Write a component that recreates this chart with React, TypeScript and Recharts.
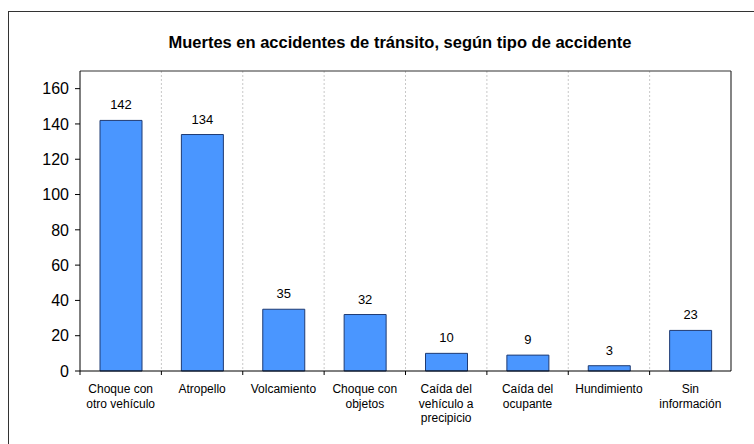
import React from 'react';
import { BarChart, Bar, XAxis, YAxis, CartesianGrid, LabelList, ReferenceLine } from 'recharts';

const categories = [
    'Choque con\notro vehículo',
    'Atropello',
    'Volcamiento',
    'Choque con\nobjetos',
    'Caída del\nvehículo a\nprecipicio',
    'Caída del\nocupante',
    'Hundimiento',
    'Sin\ninformación',
];
const deaths = [142, 134, 35, 32, 10, 9, 3, 23];
const yTicks = [0, 20, 40, 60, 80, 100, 120, 140, 160];
const Y_MAX = 170;

const data = categories.map((name, i) => ({ name, value: deaths[i] }));

const W = 745;
const H = 432;
const M = { top: 59, right: 23, left: 0, bottom: 13 };
const Y_W = 71;
const PLOT_W = W - M.left - Y_W - M.right;
const BAND = PLOT_W / categories.length;

const FONT = 'Arial, "Liberation Sans", sans-serif';

// category label + boundary tick mark on the left edge of each band
const CategoryTick = ({ x, y, payload }: any) => {
    const lines = String(payload.value).split('\n');
    return (
        <g>
            <line x1={x - BAND / 2} y1={y - 8} x2={x - BAND / 2} y2={y - 4} stroke="#000" />
            <text x={x} y={y + 14} textAnchor="middle" fontSize={12} fill="#000" fontFamily={FONT}>
                {lines.map((l, i) => (
                    <tspan key={i} x={x} dy={i === 0 ? 0 : 14.7}>{l}</tspan>
                ))}
            </text>
        </g>
    );
};

export default function App() {
    return (
        <div style={{ position: 'absolute', left: 8, top: 11, width: 780, height: 460, border: '1px solid #333', background: '#fff' }}>
            <div style={{ position: 'absolute', left: 0, top: 21, width: 782, textAlign: 'center', fontFamily: FONT, fontWeight: 'bold', fontSize: 16.5, color: '#000' }}>
                Muertes en accidentes de tránsito, según tipo de accidente
            </div>
            <BarChart width={W} height={H} data={data} margin={M} barSize={42}>
                <CartesianGrid
                    horizontal={false}
                    strokeDasharray="2 2"
                    stroke="#c8c8c8"
                    verticalCoordinatesGenerator={({ offset }: any) =>
                        categories.slice(1).map((_, i) => offset.left + (i + 1) * (offset.width / categories.length))
                    }
                />
                <XAxis
                    dataKey="name"
                    interval={0}
                    tickLine={false}
                    axisLine={{ stroke: '#000' }}
                    tick={<CategoryTick />}
                    height={60}
                />
                <YAxis
                    domain={[0, Y_MAX]}
                    ticks={yTicks}
                    width={Y_W}
                    interval={0}
                    tickSize={5}
                    tickMargin={6}
                    tickLine={{ stroke: '#000' }}
                    axisLine={{ stroke: '#000' }}
                    tick={{ fill: '#000', fontSize: 16, fontFamily: FONT }}
                />
                {/* plot frame: top and right edges */}
                <ReferenceLine y={Y_MAX} stroke="#333" strokeWidth={1.2} />
                <ReferenceLine x={categories[categories.length - 1]} position="end" stroke="#333" strokeWidth={1.2} />
                <Bar dataKey="value" fill="#4a96ff" stroke="#1f3b73" strokeWidth={1} isAnimationActive={false}>
                    <LabelList dataKey="value" position="top" offset={11} fill="#000" fontSize={13} fontFamily={FONT} />
                </Bar>
            </BarChart>
        </div>
    );
}
